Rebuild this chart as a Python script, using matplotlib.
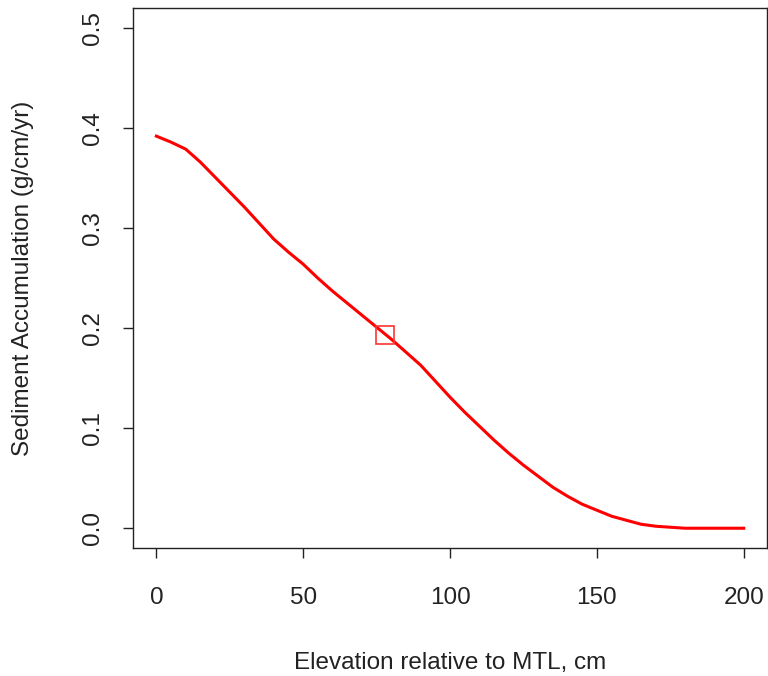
import matplotlib
matplotlib.use('Agg')
import matplotlib.pyplot as plt

# elevation (cm relative to MTL) vs sediment accumulation (g/cm/yr)
elev = [0, 5, 10, 15, 20, 25, 30, 35, 40, 45, 50, 55, 60, 65, 70, 75, 80, 85, 90, 95, 100,
        105, 110, 115, 120, 125, 130, 135, 140, 145, 150, 155, 160, 165, 170, 180, 190, 200]
accum = [0.392, 0.386, 0.379, 0.366, 0.351, 0.336, 0.321, 0.305, 0.289, 0.276, 0.264,
         0.250, 0.237, 0.225, 0.213, 0.201, 0.189, 0.176, 0.163, 0.147, 0.131,
         0.116, 0.102, 0.088, 0.075, 0.063, 0.052, 0.041, 0.032, 0.024, 0.018,
         0.012, 0.008, 0.004, 0.002, 0.0, 0.0, 0.0]

# current marsh elevation
pt_x = [78]
pt_y = [0.193]

plt.rcParams['font.family'] = ['Liberation Sans', 'DejaVu Sans']

fig = plt.figure(figsize=(7.68, 6.76), dpi=100)
ax = fig.add_axes([0.173, 0.189, 0.826, 0.799])

ax.plot(elev, accum, color='red', lw=2.2)
ax.plot(pt_x, pt_y, 's', mfc='none', mec='#ff3333', ms=13, mew=1.2)

ax.set_xlim(-8, 208)
ax.set_ylim(-0.02, 0.52)
ax.set_xticks([0, 50, 100, 150, 200])
ax.set_yticks([0.0, 0.1, 0.2, 0.3, 0.4, 0.5])
ax.set_yticklabels(['0.0', '0.1', '0.2', '0.3', '0.4', '0.5'], rotation=90, va='center')

ax.tick_params(length=7, width=1, labelsize=17.5, colors='#222222')
ax.tick_params(axis='x', pad=21)
ax.tick_params(axis='y', pad=14)
for s in ax.spines.values():
    s.set_color('#222222')
    s.set_linewidth(1)

ax.set_xlabel('Elevation relative to MTL, cm', fontsize=17.5, color='#222222', labelpad=31)
ax.set_ylabel('Sediment Accumulation (g/cm/yr)', fontsize=17.5, color='#222222', labelpad=34)

fig.savefig('out.png', dpi=100)
